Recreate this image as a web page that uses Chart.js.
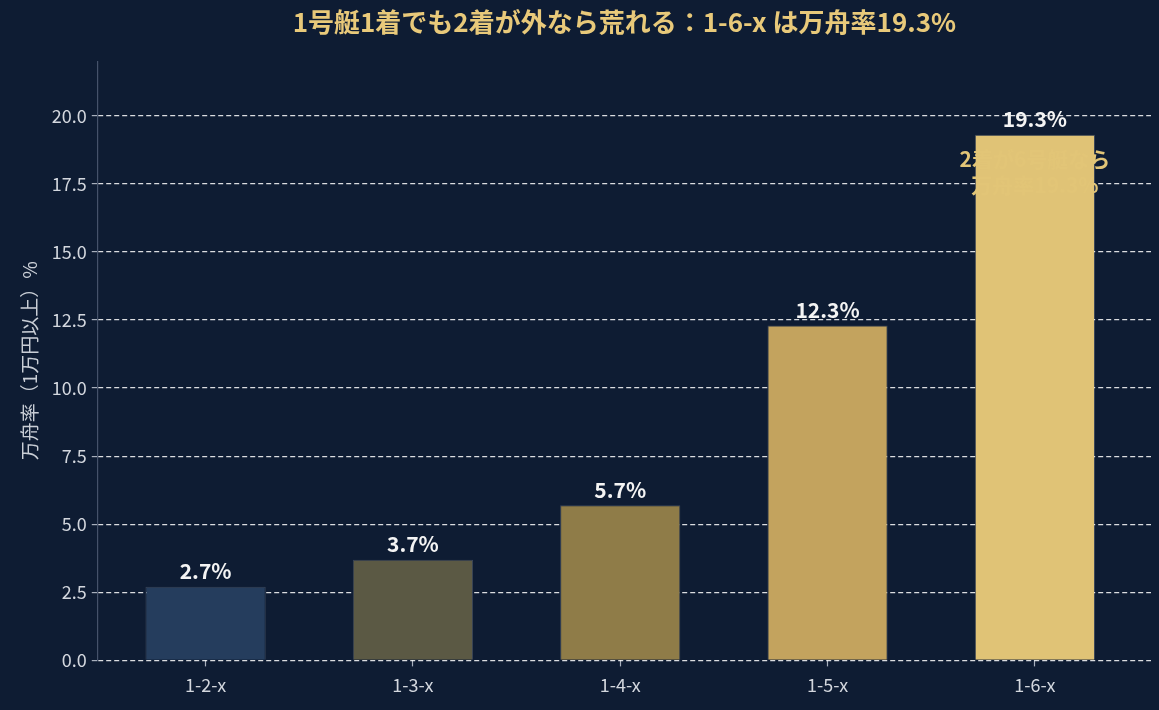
<!DOCTYPE html>
<html>
<head>
<meta charset="utf-8">
<script src="https://cdn.jsdelivr.net/npm/chart.js@4.4.1/dist/chart.umd.min.js"></script>
<style>
  html, body { margin: 0; padding: 0; background: #0e1c33; }
  #wrap { width: 1159px; height: 710px; }
</style>
</head>
<body>
<div id="wrap"><canvas id="myChart" width="1159" height="710"></canvas></div>
<script>
const categories = ['1-2-x', '1-3-x', '1-4-x', '1-5-x', '1-6-x'];
const manshuRate = [2.7, 3.7, 5.7, 12.3, 19.3];
const yTicks = [0, 2.5, 5, 7.5, 10, 12.5, 15, 17.5, 20];

const barColors = ['#253d5d', '#5b5944', '#8f7c48', '#c3a35e', '#e0c376'];
const font = '"Noto Sans CJK JP", "Noto Sans", sans-serif';

// value labels + note on the 1-6-x bar
const labelPlugin = {
    id: 'labels',
    afterDatasetsDraw(chart) {
        const ctx = chart.ctx;
        const meta = chart.getDatasetMeta(0);
        const last = meta.data[meta.data.length - 1];
        ctx.save();
        ctx.fillStyle = '#e2c577';
        ctx.font = 'bold 21px ' + font;
        ctx.textAlign = 'center';
        ctx.textBaseline = 'middle';
        const yScale = chart.scales.y;
        const y0 = yScale.getPixelForValue(manshuRate[4]) + 24;
        ctx.fillText('2着が6号艇なら', last.x, y0);
        ctx.fillText('万舟率19.3%', last.x, y0 + 26);
        ctx.restore();
    },
    afterDraw(chart) {
        const ctx = chart.ctx;
        const meta = chart.getDatasetMeta(0);
        ctx.save();
        ctx.fillStyle = '#f4f4f4';
        ctx.font = 'bold 21px ' + font;
        ctx.textAlign = 'center';
        ctx.textBaseline = 'bottom';
        meta.data.forEach((bar, i) => {
            ctx.fillText(manshuRate[i].toFixed(1) + '%', bar.x, bar.y - 5);
        });
        ctx.restore();
    }
};

const data = {
    datasets: [{
        data: manshuRate.map((v, i) => ({ x: i, y: v })),
        backgroundColor: barColors,
        borderColor: 'rgba(255,255,255,0.18)',
        borderWidth: 1,
        barPercentage: 0.58,
        categoryPercentage: 1
    }]
};

const config = {
    type: 'bar',
    data: data,
    options: {
        responsive: false,
        animation: false,
        layout: { padding: { left: 14, right: 8, top: 4, bottom: 6 } },
        plugins: {
            legend: { display: false },
            tooltip: { enabled: false },
            title: {
                display: true,
                fullSize: false,
                text: '1号艇1着でも2着が外なら荒れる：1-6-x は万舟率19.3%',
                color: '#e8c97a',
                font: { family: font, size: 26, weight: 'bold' },
                padding: { top: 3, bottom: 23 }
            }
        },
        scales: {
            x: {
                type: 'linear',
                offset: false,
                min: -0.52,
                max: 4.56,
                afterBuildTicks: (s) => { s.ticks = categories.map((c, i) => ({ value: i })); },
                ticks: {
                    callback: (v) => categories[v],
                    color: '#d3d7de',
                    font: { family: font, size: 18 },
                    padding: 8
                },
                grid: {
                    offset: false,
                    drawOnChartArea: false,
                    drawTicks: true,
                    tickLength: 6,
                    tickColor: '#a8b0bd',
                    tickWidth: 1.2
                },
                border: { display: false }
            },
            y: {
                min: 0,
                max: 22,
                z: 1,
                afterBuildTicks: (s) => { s.ticks = yTicks.map(v => ({ value: v })); },
                ticks: {
                    callback: (v) => v.toFixed(1),
                    color: '#d3d7de',
                    font: { family: font, size: 18 },
                    padding: 5
                },
                grid: {
                    color: 'rgba(255,255,255,0.85)',
                    lineWidth: 1.2,
                    tickLength: 6,
                    tickColor: '#a8b0bd',
                    tickBorderDash: [],
                    tickWidth: 1.2
                },
                border: { display: true, color: '#45526a', width: 1.2, dash: [5, 3] },
                title: {
                    display: true,
                    text: '万舟率（1万円以上）%',
                    color: '#c9ced6',
                    font: { family: font, size: 19 },
                    padding: { bottom: 6 }
                }
            }
        }
    },
    plugins: [labelPlugin]
};

var myChart = new Chart(document.getElementById('myChart'), config);
</script>
</body>
</html>
